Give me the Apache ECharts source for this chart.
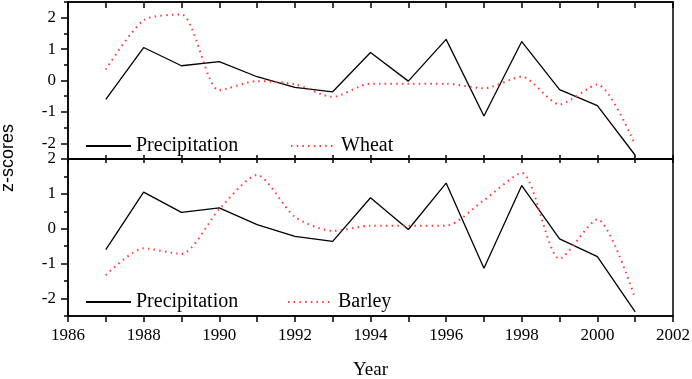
<!DOCTYPE html>
<html>
<head>
<meta charset="utf-8">
<script src="https://cdn.jsdelivr.net/npm/echarts@6/dist/echarts.min.js"></script>
<style>
  html, body { margin: 0; padding: 0; background: #fff; }
  #chart { width: 692px; height: 379px; }
</style>
</head>
<body>
<div id="chart"></div>
<script>
// values
const years = [1987, 1988, 1989, 1990, 1991, 1992, 1993, 1994, 1995, 1996, 1997, 1998, 1999, 2000, 2001];
const precipitation = [-0.6, 1.05, 0.47, 0.6, 0.12, -0.22, -0.36, 0.89, -0.02, 1.31, -1.13, 1.24, -0.29, -0.8, -2.38];
const wheat = [0.35, 1.92, 2.1, -0.31, -0.02, -0.12, -0.52, -0.1, -0.1, -0.1, -0.25, 0.12, -0.76, -0.13, -2.05];
const barley = [-1.33, -0.56, -0.72, 0.56, 1.54, 0.34, -0.06, 0.09, 0.09, 0.09, 0.82, 1.6, -0.86, 0.27, -2.0];
const majorY = [-2, -1, 0, 1, 2];

const pairs = vals => years.map((y, i) => [y, vals[i]]);

const serif = 'Liberation Serif';
const black = '#000';
const red = '#ff3a3a';

function xAx(grid, pos, opts) {
  return Object.assign({
    type: 'value', gridIndex: grid, position: pos,
    min: 1986, max: 2002, interval: 1,
    axisLine: { show: true, onZero: false, lineStyle: { color: black, width: 1.5 } },
    axisTick: { show: true, inside: true, length: 4, lineStyle: { color: black, width: 1.5 } },
    axisLabel: { show: false },
    splitLine: { show: false }
  }, opts);
}

function yMain(grid, min, max) {
  return {
    type: 'value', gridIndex: grid, position: 'left', min: min, max: max, interval: 0.5,
    axisLine: { show: true, onZero: false, lineStyle: { color: black, width: 1.5 } },
    axisTick: { show: true, length: 7, customValues: majorY, lineStyle: { color: black, width: 1.5 } },
    axisLabel: { show: true, customValues: majorY, margin: 12, color: black, fontFamily: serif, fontSize: 17 },
    splitLine: { show: false }
  };
}

function yMinor(grid, min, max) {
  return {
    type: 'value', gridIndex: grid, position: 'left', min: min, max: max, interval: 0.5,
    axisLine: { show: false, onZero: false },
    axisTick: { show: true, length: 4, lineStyle: { color: black, width: 1.5 } },
    axisLabel: { show: false },
    splitLine: { show: false }
  };
}

function legendItem(name, left, top) {
  return {
    data: [name], left: left, top: top, orient: 'horizontal',
    itemWidth: 45, itemHeight: 14, selectedMode: false,
    itemStyle: { color: 'transparent', borderWidth: 0, opacity: 0 },
    textStyle: { color: black, fontFamily: serif, fontSize: 20 }
  };
}

const gridBase = { left: 68, right: 19, height: 157, show: true, borderColor: black, borderWidth: 1.5, containLabel: false, outerBoundsMode: 'none' };

const chart = echarts.init(document.getElementById('chart'));
chart.setOption({
  animation: false,
  backgroundColor: '#fff',
  grid: [
    Object.assign({ top: 2 }, gridBase),
    Object.assign({ top: 159 }, gridBase)
  ],
  xAxis: [
    xAx(0, 'bottom', {}),
    xAx(0, 'top', { axisTick: { show: true, inside: true, length: 6, lineStyle: { color: black, width: 1.5 } } }),
    xAx(1, 'bottom', {
      axisTick: { show: true, inside: false, length: 6, lineStyle: { color: black, width: 1.5 } },
      axisLabel: {
        show: true, margin: 11, color: black, fontFamily: serif, fontSize: 17,
        formatter: v => (v % 2 === 0 ? String(v) : '')
      },
      name: 'Year', nameLocation: 'middle', nameGap: 45,
      nameTextStyle: { color: black, fontFamily: serif, fontSize: 19 }
    }),
    xAx(1, 'top', {})
  ],
  yAxis: [
    yMain(0, -2.5, 2.5),
    yMinor(0, -2.5, 2.5),
    yMain(1, -2.5, 2),
    yMinor(1, -2.5, 2)
  ],
  legend: [
    legendItem('Precipitation', 80, 131),
    legendItem('Wheat', 285, 131),
    legendItem('Precipitation', 80, 287),
    legendItem('Barley', 282, 287)
  ],
  graphic: [{
    type: 'text', x: 8, y: 158, rotation: Math.PI / 2,
    style: { text: 'z-scores', fill: black, font: '18px "Liberation Sans"', align: 'center', verticalAlign: 'middle' }
  }],
  series: [
    {
      name: 'Precipitation', type: 'line', xAxisIndex: 0, yAxisIndex: 0,
      data: pairs(precipitation), symbol: 'none',
      lineStyle: { color: black, width: 1.3 }, itemStyle: { color: black }
    },
    {
      name: 'Wheat', type: 'line', xAxisIndex: 0, yAxisIndex: 0,
      data: pairs(wheat), symbol: 'none', smooth: 0.25,
      lineStyle: { color: red, width: 2, type: [1.5, 4.2] }, itemStyle: { color: red }
    },
    {
      name: 'Precipitation', type: 'line', xAxisIndex: 2, yAxisIndex: 2,
      data: pairs(precipitation), symbol: 'none',
      lineStyle: { color: black, width: 1.3 }, itemStyle: { color: black }
    },
    {
      name: 'Barley', type: 'line', xAxisIndex: 2, yAxisIndex: 2,
      data: pairs(barley), symbol: 'none', smooth: 0.25,
      lineStyle: { color: red, width: 2, type: [1.5, 4.2] }, itemStyle: { color: red }
    }
  ]
});
</script>
</body>
</html>
